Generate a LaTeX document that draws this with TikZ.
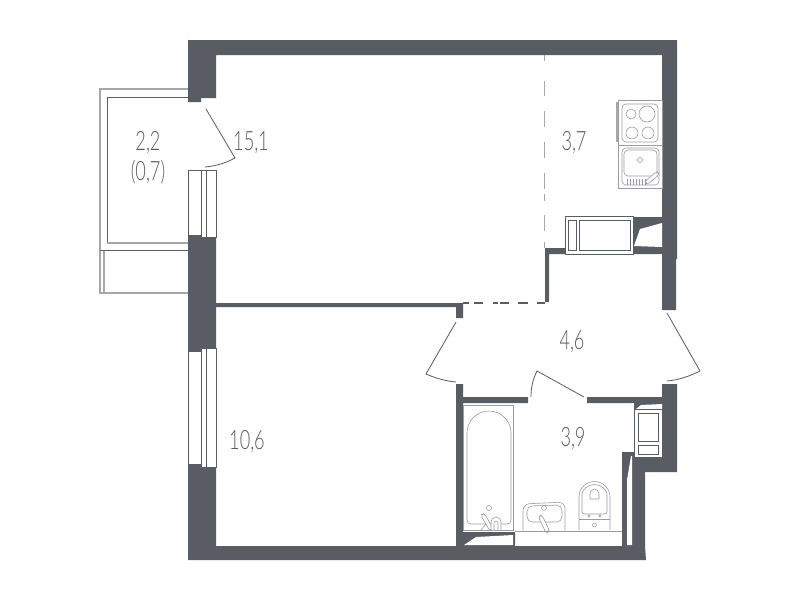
\documentclass[tikz,border=0pt]{standalone}
\usepackage{fontspec}
\setmainfont{Lato Light}[FakeStretch=0.68]
\definecolor{wall}{HTML}{595C63}
\definecolor{soft}{HTML}{A6A7AB}
\definecolor{fix}{HTML}{9A9CA0}
\tikzset{
  x=0.75pt,y=-0.75pt,
  wallfill/.style={fill=wall,draw=none},
  winline/.style={draw=wall,line width=0.75pt,fill=white},
  doorline/.style={draw=wall,line width=0.6pt},
  softline/.style={draw=soft,line width=0.8pt},
  fixt/.style={draw=fix,line width=0.45pt},
  roomlabel/.style={text=wall,font=\fontsize{20}{20}\selectfont,inner sep=0pt},
  dashpiece/.style={draw=soft,line width=1.1pt}
}
\begin{document}
\begin{tikzpicture}
\useasboundingbox (0,0) rectangle (800,600);
\fill[white] (0,0) rectangle (800,600);
% balcony
\draw[softline] (188,89) -- (100,89) -- (100,293) -- (188,293);
\draw[softline] (104,250) -- (104,293);
\draw[draw=wall,line width=0.7pt] (188,97) -- (107,97) -- (107,243);
\draw[softline,line width=1.1pt] (107,243) -- (188,243);
\draw[draw=wall,line width=0.7pt] (100,250) -- (188,250);
% outer walls
\path[wallfill] (188,40) -- (677,40) -- (677,259) -- (676,259) -- (676,310) -- (662,310) -- (662,55) -- (216,55) -- (216,98) -- (201,98) -- (201,102) -- (188,102) -- cycle;
\path[wallfill] (188,235) -- (201,235) -- (201,237) -- (216,237) -- (216,348) -- (201,348) -- (201,351) -- (188,351) -- cycle;
\path[wallfill] (188,464) -- (201,464) -- (201,467) -- (216,467) -- (216,546) -- (456,546) -- (456,384) -- (463,384) -- (463,397) -- (528,397) -- (528,403) -- (463,403) -- (463,532) -- (515,532) -- (515,546) -- (622,546) -- (622,452) -- (634,452) -- (634,472) -- (645,472) -- (645,546) -- (646,560) -- (188,560) -- cycle;
% inner walls
\path[wallfill] (216,303) -- (463,303) -- (463,318) -- (456,318) -- (456,307) -- (216,307) -- cycle;
\path[wallfill] (545,248) -- (662,248) -- (662,254) -- (549,254) -- (549,302) -- (545,302) -- cycle;
\path[wallfill] (633,217) -- (662,217) -- (662,254) -- (633,254) -- cycle;
\path[fill=white] (634,246) -- (640,229) -- (662,223) -- (662,247) -- cycle;
\path[wallfill] (587,397) -- (662,397) -- (662,384) -- (677,384) -- (677,472) -- (645,472) -- (634,472) -- (634,403) -- (587,403) -- cycle;
\path[fill=white] (636,409) -- (641,405) -- (662,404) -- (662,409) -- cycle;
% shaft white wedge
\path[fill=white] (631,456) -- (627,480) -- (627,545) -- (632,545) -- (632,456) -- cycle;
% bath niche wedge
\path[fill=white] (464,545) -- (476,537) -- (513,535) -- (513,545) -- cycle;
% windows
\draw[winline] (188,170) rectangle (201,235);
\draw[winline] (201,170) rectangle (206,237);
\draw[winline] (206,170) rectangle (216,237);
\draw[winline] (188,351) rectangle (201,464);
\draw[winline] (201,348) rectangle (206,467);
\draw[winline] (206,348) rectangle (216,467);
% dashed partitions
\foreach \a/\b in {55/61,81/96,111/127,142/158,173/189,194/201,215/231,242/248}
  \draw[dashpiece] (544.5,\a) -- (544.5,\b);
\foreach \a/\b in {463/469,474/483,493/498,500/509,518/528,537/545}
  \draw[draw=wall,line width=0.8pt] (\a,303) -- (\b,303);
% doors
\draw[doorline] (206,109) -- (235,158) .. controls (226,163) and (216,166) .. (205,167);
\draw[doorline] (456,322) -- (426,374) .. controls (435,378) and (445,381) .. (456,382);
\draw[doorline] (531,397) .. controls (531,387) and (533,379) .. (537,371) -- (584,397);
\draw[doorline] (667,313) -- (700,371) .. controls (690,376) and (679,380) .. (667,381);
% kitchen
\draw[fixt,fill=white] (618,100) rectangle (662,145);
\draw[fixt,fill=white] (618,145) rectangle (662,188);
\draw[softline] (617,102) -- (617,142);
\draw[fixt,rounded corners=3pt] (622,104) rectangle (658,142);
\draw[fixt] (631,114) circle (5);
\draw[fixt] (647,114) circle (8);
\draw[fixt] (632,133) circle (6);
\draw[fixt] (648,133) circle (6);
\draw[fixt,rounded corners=3pt] (622,148) rectangle (659,185);
\draw[fixt,rounded corners=3pt] (624,150) rectangle (657,176);
\draw[fixt] (640,160) circle (2.5);
\foreach \x in {627,630,633,636,639,642,645}
  \draw[fixt] (\x,179) -- (\x,185);
\draw[fixt,fill=white,rounded corners=2pt,rotate around={40:(652,178)}] (644,176) rectangle (660,180);
% microwave
\draw[winline] (565,216) rectangle (633,254);
\draw[winline] (568,220) rectangle (576,250);
\draw[winline] (579,220) rectangle (630,250);
% washer
\draw[winline] (634,409) rectangle (662,457);
\draw[winline] (638,413) rectangle (658,441);
\draw[winline] (638,445) rectangle (658,454);
% bath
\draw[fixt] (463,405) rectangle (513,530);
\draw[fixt] (467,433) arc[start angle=180,end angle=360,radius=22] -- (511,520) .. controls (511,523) and (509,524) .. (507,524) -- (471,524) .. controls (469,524) and (467,523) .. (467,520) -- cycle;
\draw[fixt] (489,508) circle (2.5);
\draw[fixt,fill=white,rounded corners=2pt,rotate around={-60:(487,522)}] (478,520) rectangle (496,524);
\draw[fixt,fill=white] (491,530) -- (491,522) arc[start angle=180,end angle=360,radius=5] -- (501,530);
\draw[fixt] (494,530) -- (494,523) arc[start angle=180,end angle=360,radius=2] -- (498,530);
\draw[fixt] (481,530) -- (486,524);
% basin
\draw[fixt,rounded corners=5pt] (523,531) -- (523,504) -- (565,502) -- (565,531);
\draw[fixt,rounded corners=4pt] (527,522) -- (527,506) -- (562,505) -- (562,522) -- cycle;
\draw[fixt] (544,508) circle (2.5);
\draw[fixt,fill=white,rounded corners=2pt,rotate around={-65:(544,524)}] (535,522) rectangle (553,526);
% toilet
\draw[fixt] (579,530) -- (579,497) arc[start angle=180,end angle=360,radius=15.5] -- (610,530);
\draw[fixt] (579,519) -- (610,519);
\draw[fixt,rounded corners=2pt] (582,514) -- (582,497) arc[start angle=180,end angle=360,radius=12.5] -- (607,514) -- cycle;
\draw[fixt] (590,499) -- (590,493.5) arc[start angle=180,end angle=360,radius=4.5] -- (599,499) -- cycle;
\draw[fixt] (589,516) circle (1.3);
\draw[fixt] (600,516) circle (1.3);
\draw[fixt] (594.5,525) circle (2);
\draw[fixt] (515,531) -- (622,531);
% labels
\node[roomlabel] (balc) at (148,142.5) {2,2};
\node[roomlabel] (balcb) at (148,172) {(0,7)};
\node[roomlabel] (room) at (251,142.5) {15,1};
\node[roomlabel] (kitch) at (574,142.5) {3,7};
\node[roomlabel] (hall) at (572,341.5) {4,6};
\node[roomlabel] (bath) at (573,438.5) {3,9};
\node[roomlabel] (bed) at (247,441.5) {10,6};
\end{tikzpicture}
\end{document}
